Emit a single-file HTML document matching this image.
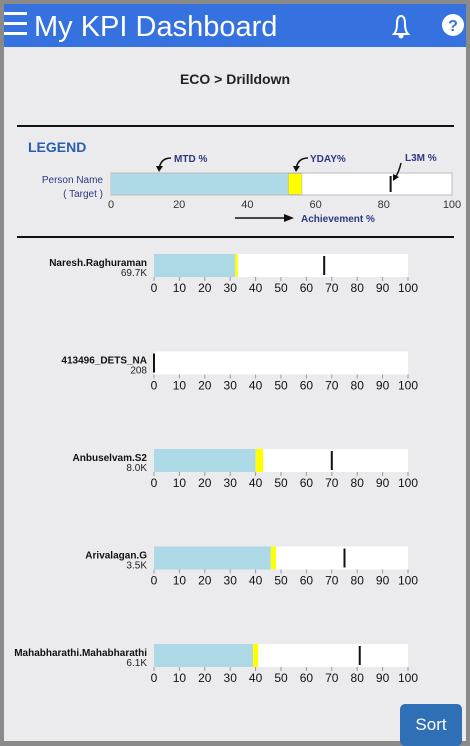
<!DOCTYPE html>
<html><head><meta charset="utf-8"><style>
body{margin:0;width:470px;height:745px;background:#8a8a8a;font-family:"Liberation Sans",sans-serif;overflow:hidden}
#page{position:absolute;left:4px;top:4px;width:462px;height:737px;background:#ebebee}
#hdr{position:absolute;left:0;top:0;width:462px;height:43px;background:#3572e0;color:#fff}
#sort{position:absolute;left:396px;top:700px;width:62px;height:42px;background:#2f6fb5;border-radius:5px;color:#fff;font-size:17px;text-align:center;line-height:42px}
</style></head><body>
<div id="page">
<div id="hdr">
 <svg width="462" height="43">
  <g fill="#fff"><rect x="0" y="8" width="23" height="3"/><rect x="0" y="18" width="23" height="3"/><rect x="0" y="28" width="23" height="3"/></g>
  <text x="30" y="32" font-size="29" fill="#fff" font-family="Liberation Sans">My KPI Dashboard</text>
  <g fill="none" stroke="#fff" stroke-width="2"><path d="M390 30 Q393 27 393 20 Q393 12 397 12 Q401 12 401 20 Q401 27 404 30 Z"/><circle cx="397" cy="32" r="1.5" fill="#fff"/></g>
  <g><circle cx="449" cy="21" r="11" fill="#fff"/><text x="449" y="27" font-size="16" font-weight="bold" fill="#3572e0" text-anchor="middle">?</text></g>
 </svg>
</div>
<div id="sort">Sort</div>
</div>
<svg id="chart" width="470" height="745" style="position:absolute;left:0;top:0"></svg>
<script>
const names=["Naresh.Raghuraman","413496_DETS_NA","Anbuselvam.S2","Arivalagan.G","Mahabharathi.Mahabharathi"];
const targets=["69.7K","208","8.0K","3.5K","6.1K"];
const mtd=[32,0,40,46,39];
const yday=[1,0,3,2,2];
const l3m=[67,0,70,75,81];
const ticks=[0,10,20,30,40,50,60,70,80,90,100];
const legTicks=[0,20,40,60,80,100];
const legMtd=52, legYday=4, legL3m=82;
const NS="http://www.w3.org/2000/svg";
const svg=document.getElementById('chart');
function mk(tag,attrs,txt){const e=document.createElementNS(NS,tag);for(const k in attrs)e.setAttribute(k,attrs[k]);if(txt!==undefined)e.textContent=txt;svg.appendChild(e);return e;}
// static texts
let t=mk('text',{x:235,y:84,'font-size':14,'font-weight':'bold','text-anchor':'middle',fill:'#222'},'ECO > Drilldown');


let l=mk('rect',{x:17,y:125,width:437,height:2,fill:'#111'});


l=mk('rect',{x:17,y:236,width:437,height:2,fill:'#111'});


t=mk('text',{x:28,y:152,'font-size':14,'font-weight':'bold',fill:'#2a5fb0'},'LEGEND');


// legend bar
const lx=v=>111+v*3.41;
let r=mk('rect',{x:lx(0),y:173,width:lx(100)-lx(0),height:22,fill:'#fff',stroke:'#bbb'});


r=mk('rect',{x:lx(0),y:173.5,width:lx(legMtd)-lx(0),height:21,fill:'#add8e6'});


r=mk('rect',{x:lx(legMtd),y:173.5,width:lx(legMtd+legYday)-lx(legMtd),height:21,fill:'#ffff00',stroke:'#aaa','stroke-width':0.5});


r=mk('rect',{x:lx(legL3m)-1,y:176,width:2,height:16,fill:'#111'});


legTicks.forEach(v=>{const e=mk('text',{x:lx(v),y:208,'font-size':11,'text-anchor':'middle',fill:'#333'},v);

});
[['Person Name',103,183],['( Target )',103,197]].forEach(a=>{const e=mk('text',{x:a[1],y:a[2],'font-size':10,'text-anchor':'end',fill:'#2a3a80'},a[0]);

});
[['MTD %',174,162],['YDAY%',310,162],['L3M %',405,161],['Achievement %',301,222]].forEach(a=>{const e=mk('text',{x:a[1],y:a[2],'font-size':10,'font-weight':'bold',fill:'#2a3a80'},a[0]);

});
[['M171 158 Q160 158 159 170','159,172 156,166 163,166'],['M308 158 Q297 158 296 170','296,172 293,166 300,166'],['M401 163 Q399 172 395 178','393,181 393,174 399,177']].forEach(a=>{const p=mk('path',{d:a[0],fill:'none',stroke:'#111','stroke-width':1.5});


const h=mk('polygon',{points:a[1],fill:'#111'});

});
let p=mk('path',{d:'M235 218 L288 218',stroke:'#111','stroke-width':1.5});


p=mk('polygon',{points:'294,218 284,214 284,222',fill:'#111'});


// rows
const x=v=>154+v*2.54;
names.forEach((n,i)=>{
 const y=254+i*97.5;
 let e=mk('rect',{x:x(0),y:y,width:x(100)-x(0),height:23,fill:'#fff'});
 
 
 e=mk('rect',{x:x(0),y:y,width:x(mtd[i])-x(0),height:23,fill:'#add8e6'});
 
 
 e=mk('rect',{x:x(mtd[i]),y:y,width:x(mtd[i]+yday[i])-x(mtd[i]),height:23,fill:'#ffff00'});
 
 
 e=mk('rect',{x:x(l3m[i])-1,y:y+2,width:2,height:19,fill:'#111'});
 
 
 e=mk('text',{x:147,y:y+12,'font-size':10,'font-weight':'bold','text-anchor':'end',fill:'#111'},n);
 
 
 e=mk('text',{x:147,y:y+22,'font-size':10,'text-anchor':'end',fill:'#222'},targets[i]);
 
 
 ticks.forEach(v=>{
  const k=mk('rect',{x:x(v)-0.5,y:y+23,width:1,height:4,fill:'#999'});
  
  
  const tl=mk('text',{x:x(v),y:y+38,'font-size':12,'text-anchor':'middle',fill:'#111'},v);
  
  
 });
});
</script>
</body></html>
